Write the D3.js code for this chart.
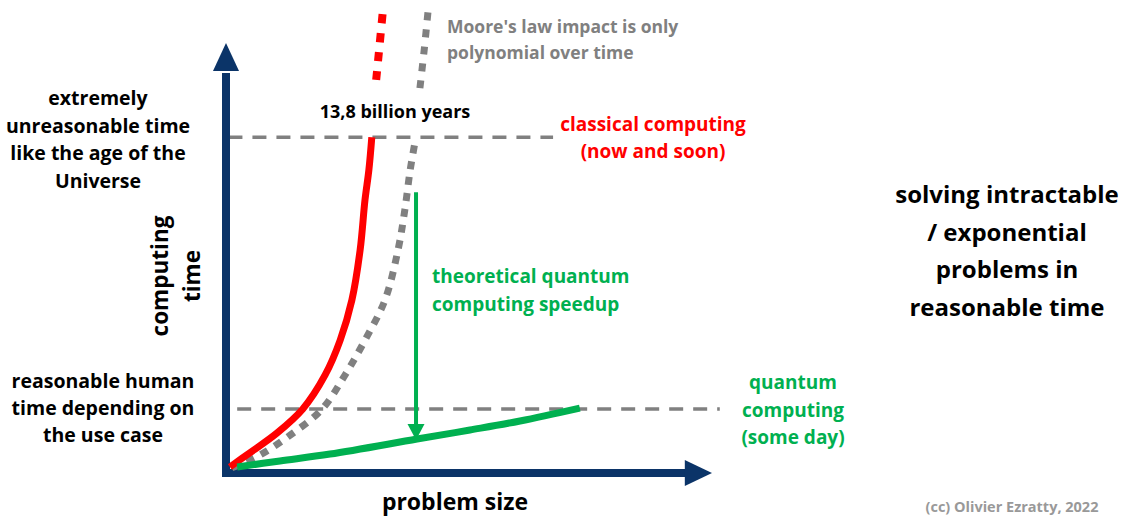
<!DOCTYPE html>
<html>
<head>
<meta charset="utf-8">
<script src="https://cdn.jsdelivr.net/npm/d3@7"></script>
</head>
<body style="margin:0">
<div id="chart"></div>
<script>
// conceptual data, problem size (x) vs computing time (y), 0..100 units
const classicalCurve = [[0.8,1.4],[4.9,4.7],[10.5,9.3],[15.8,14.9],[20.4,22.8],[23.5,30.9],[25.9,40.2],[27.6,51.9],[28.6,63.5],[29.4,70.5],[30.0,78.1]];
const classicalBeyond = [[30.9,91.4],[31.6,99.5],[32.3,107.7]];
const mooreCurve = [[1.2,1.2],[7.0,4.2],[13.2,8.8],[19.8,14.9],[24.5,22.8],[28.6,30.9],[32.7,40.2],[35.4,51.9],[36.8,61.2],[37.9,70.5],[38.9,77.0]];
const mooreBeyond = [[39.9,89.5],[40.8,98.6],[41.6,107.7]];
const quantumCurve = [[2.3,1.4],[11.1,2.8],[21.4,4.4],[39.3,7.9],[50.2,10.0],[60.5,12.1],[72.8,15.1]];
const speedupArrow = { x: 39.1, from: 65.3, to: 7.7 };
const thresholds = [
  { name: "universe", y: 78.1, x0: 0.5, x1: 67.3 },
  { name: "human", y: 14.9, x0: 2.3, x1: 101.6 }
];

const width = 1128, height = 516;
const svg = d3.select("#chart").append("svg")
    .attr("width", width)
    .attr("height", height);

const x = d3.scaleLinear().domain([0, 100]).range([226, 712]);
const y = d3.scaleLinear().domain([0, 100]).range([473, 43]);

const navy = "#0B3468", red = "#FF0000", green = "#00B050", gray = "#808080";

const line = d3.line()
    .x(d => x(d[0]))
    .y(d => y(d[1]))
    .curve(d3.curveCatmullRom);

// threshold dashed lines
svg.selectAll(".threshold")
    .data(thresholds)
    .enter()
    .append("line")
    .attr("class", "threshold")
    .attr("x1", d => x(d.x0))
    .attr("x2", d => x(d.x1))
    .attr("y1", d => y(d.y))
    .attr("y2", d => y(d.y))
    .attr("stroke", gray)
    .attr("stroke-width", 3.5)
    .attr("stroke-dasharray", "14,10");

// axes (arrows)
svg.append("line")
    .attr("x1", x(0)).attr("x2", x(0))
    .attr("y1", y(0) + 4).attr("y2", y(93))
    .attr("stroke", navy).attr("stroke-width", 8);
svg.append("path")
    .attr("d", `M${x(0)},${y(100)} L${x(0) - 13},${y(93.5)} L${x(0) + 13},${y(93.5)} Z`)
    .attr("fill", navy);
svg.append("line")
    .attr("x1", x(0) - 4).attr("x2", x(94.5))
    .attr("y1", y(0)).attr("y2", y(0))
    .attr("stroke", navy).attr("stroke-width", 8);
svg.append("path")
    .attr("d", `M${x(100)},${y(0)} L${x(94.4)},${y(0) - 13} L${x(94.4)},${y(0) + 13} Z`)
    .attr("fill", navy);

// curves
svg.append("path").datum(mooreCurve)
    .attr("d", line).attr("fill", "none")
    .attr("stroke", gray).attr("stroke-width", 7).attr("stroke-dasharray", "8,8");
svg.append("path").datum(mooreBeyond)
    .attr("d", line).attr("fill", "none")
    .attr("stroke", gray).attr("stroke-width", 7).attr("stroke-dasharray", "8,9");
svg.append("path").datum(classicalCurve)
    .attr("d", line).attr("fill", "none")
    .attr("stroke", red).attr("stroke-width", 7);
svg.append("path").datum(classicalBeyond)
    .attr("d", line).attr("fill", "none")
    .attr("stroke", red).attr("stroke-width", 8).attr("stroke-dasharray", "9,10");
svg.append("path").datum(quantumCurve)
    .attr("d", line).attr("fill", "none")
    .attr("stroke", green).attr("stroke-width", 7);

// speedup arrow
svg.append("line")
    .attr("x1", x(speedupArrow.x)).attr("x2", x(speedupArrow.x))
    .attr("y1", y(speedupArrow.from)).attr("y2", y(speedupArrow.to) - 12)
    .attr("stroke", green).attr("stroke-width", 4);
svg.append("path")
    .attr("d", `M${x(speedupArrow.x)},${y(speedupArrow.to)} L${x(speedupArrow.x) - 8.5},${y(speedupArrow.to) - 16} L${x(speedupArrow.x) + 8.5},${y(speedupArrow.to) - 16} Z`)
    .attr("fill", green);

// text blocks, one <text> per line
function block(lines, px, py, opts) {
    lines.forEach((l, i) => {
        svg.append("text")
            .attr("x", px)
            .attr("y", py + i * (opts.lh || 0))
            .attr("text-anchor", opts.anchor || "middle")
            .attr("fill", opts.color || "#000")
            .style("font-family", "\"Open Sans\"")
            .style("font-size", opts.size + "px")
            .style("font-weight", l.bold ? "700" : "300")
            .text(l.text || l);
    });
}

block(["extremely", "unreasonable time", "like the age of the", "Universe"], 98, 105, { size: 19.5, lh: 27.7 });
block(["reasonable human", "time depending on", "the use case"], 103, 388, { size: 19.5, lh: 27 });
block(["Moore's law impact is only", "polynomial over time"], 447, 33, { size: 17.5, lh: 26, anchor: "start", color: gray });
block(["13,8 billion years"], 395, 118, { size: 18 });
block([{ text: "classical computing", bold: true }, "(now and soon)"], 653, 131, { size: 19, lh: 27, color: red });
block([{ text: "theoretical quantum", bold: true }, { text: "computing speedup", bold: true }], 432, 283, { size: 19, lh: 28, anchor: "start", color: green });
block([{ text: "quantum", bold: true }, { text: "computing", bold: true }, "(some day)"], 793, 389, { size: 19, lh: 27.5, color: green });
block(["solving intractable", "/ exponential", "problems in", "reasonable time"], 1007, 203, { size: 24, lh: 37.5 });
block([{ text: "problem size", bold: true }], 455, 510, { size: 23 });
block(["(cc) Olivier Ezratty, 2022"], 1012, 512, { size: 14.5, color: "#999" });

// rotated y-axis title
[["computing", 168], ["time", 200]].forEach(([label, px]) => {
    svg.append("text")
        .attr("transform", `translate(${px},276) rotate(-90)`)
        .attr("text-anchor", "middle")
        .style("font-family", "\"Open Sans\"")
        .style("font-size", "22.5px")
        .style("font-weight", "700")
        .text(label);
});
</script>
</body>
</html>
